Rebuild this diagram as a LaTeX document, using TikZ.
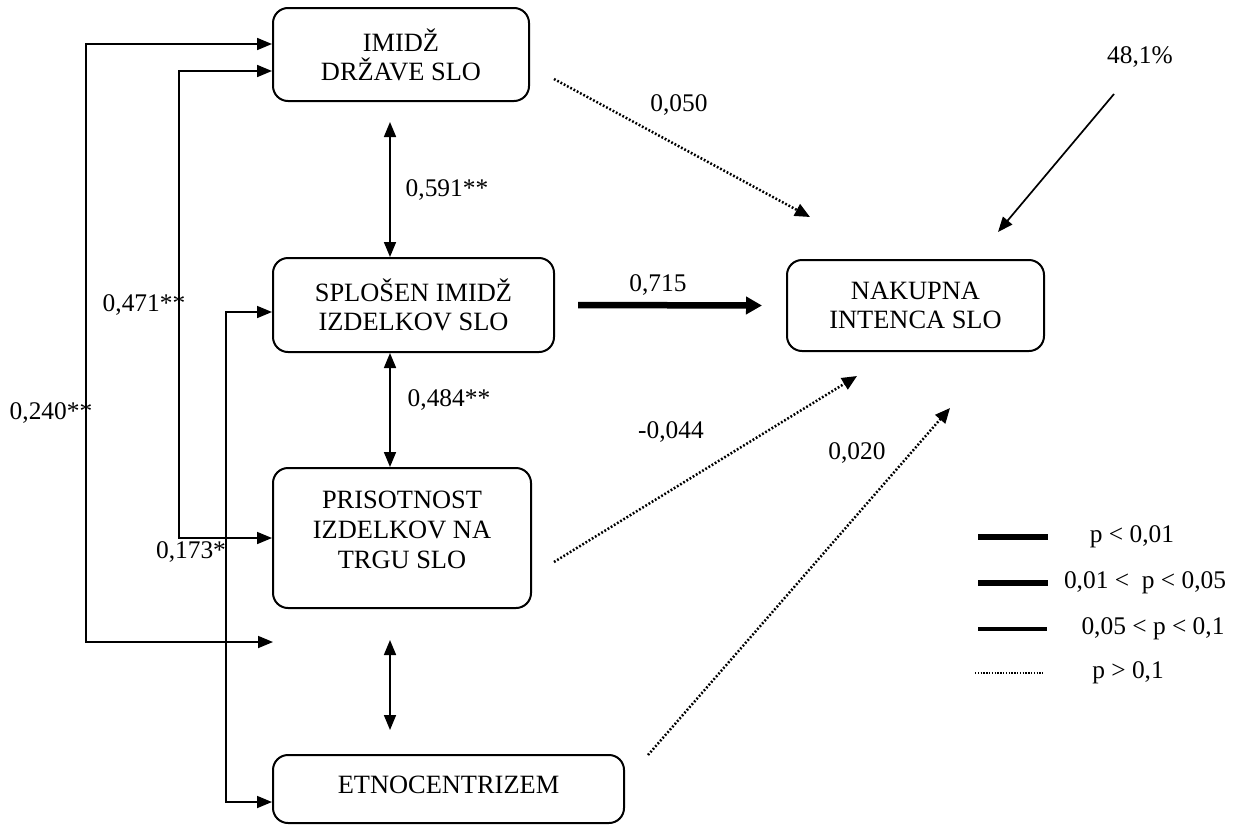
\documentclass[tikz,border=0pt]{standalone}
\usepackage{fontspec}
\setmainfont{Liberation Serif}
\usetikzlibrary{arrows.meta}
\begin{document}
\begin{tikzpicture}[x=0.5pt,y=-0.5pt,
  font=\fontsize{12.7}{14.5}\selectfont,
  box/.style={draw,line width=1pt,rounded corners=7.5pt,align=center,inner sep=0pt,
    font=\fontsize{13.2}{14.5}\selectfont},
  lbl/.style={inner sep=0pt,align=center},
  conn/.style={line width=0.85pt,-{Triangle[length=7.5pt,width=6pt]}},
  dbl/.style={line width=0.85pt,{Triangle[length=7.5pt,width=6pt]}-{Triangle[length=7.5pt,width=6pt]}},
  strong/.style={line width=3.25pt,-{Triangle[length=8pt,width=8.5pt]}},
  weak/.style={line width=1.25pt,dash pattern=on 0.9pt off 0.95pt,-{Triangle[length=7.5pt,width=6.5pt]}}]
\useasboundingbox (0,0) rectangle (1235,825);

% constructs
\node[box,minimum width=128pt,minimum height=46.5pt] (img) at (401,54.5) {IMIDŽ\\DRŽAVE SLO};
\node[box,minimum width=140.5pt,minimum height=47pt] (spl) at (413.5,305) {SPLOŠEN IMIDŽ\\IZDELKOV SLO};
\node[box,minimum width=129pt,minimum height=70pt] (pri) at (402,538) {};
\node[lbl,font=\fontsize{13.2}{15}\selectfont] (pritxt) at (402,530) {PRISOTNOST\\IZDELKOV NA\\TRGU SLO};
\node[box,minimum width=175.5pt,minimum height=34pt] (etn) at (448.5,789) {};
\node[lbl,font=\fontsize{13.2}{15}\selectfont] (etntxt) at (448.5,785) {ETNOCENTRIZEM};
\node[box,minimum width=128.5pt,minimum height=45.5pt] (nak) at (915.5,305.5) {NAKUPNA\\INTENCA SLO};

% helper coordinates
\coordinate (axis) at (390,0);
\coordinate (gapin) at (273,642);
\coordinate (err) at (1114,94);

% correlations on the left
\draw[dbl] ([yshift=5.25pt]img.west) -| ([xshift=-93.5pt]gapin) -- (gapin);
\draw[dbl] ([yshift=-8.25pt]img.west) -| ([xshift=-46.5pt]pri.west) -- (pri.west);
\draw[dbl] ([yshift=-3.5pt]spl.west) -| ([xshift=-23pt,yshift=-6.5pt]etn.west) -- ([yshift=-6.5pt]etn.west);

\node[lbl] (r240) at (51,413) {0,240**};
\node[lbl] (r471) at (144,305) {0,471**};
\node[lbl] (r173) at (191,552) {0,173*};

% correlations in the middle column
\draw[dbl] ([yshift=-10pt]img.south -| axis) -- (spl.north -| axis);
\draw[dbl] (spl.south -| axis) -- (pri.north -| axis);
\draw[dbl] ([yshift=-15.5pt]pri.south -| axis) -- ([yshift=12pt]etn.north -| axis);

\node[lbl] (r591) at (447,190) {0,591**};
\node[lbl] (r484) at (449,400) {0,484**};

% paths into purchase intention
\draw[strong] ([xshift=11.5pt]spl.east) -- ([xshift=-12pt]nak.west);
\node[lbl] (b715) at (658,285) {0,715};

\draw[weak] ([xshift=12pt,yshift=-12.25pt]img.east) -- ([xshift=-52.75pt,yshift=21pt]nak.north);
\node[lbl] (b050) at (679,105) {0,050};

\draw[weak] ([xshift=11pt,yshift=-12pt]pri.east) -- ([xshift=-29.25pt,yshift=-12pt]nak.south);
\node[lbl] (b044) at (671,432) {-0,044};

\draw[weak] ([xshift=11.5pt,yshift=17pt]etn.east) -- ([xshift=17.25pt,yshift=-28pt]nak.south);
\node[lbl] (b020) at (857,453) {0,020};

% explained variance
\node[lbl] (r2) at (1140,57) {48,1\%};
\draw[conn] (err) -- ([xshift=-23.5pt,yshift=13.5pt]nak.north east);

% legend
\coordinate (l1a) at (978,537); \coordinate (l1b) at (1048,537);
\coordinate (l2a) at (978,583); \coordinate (l2b) at (1048,583);
\coordinate (l3a) at (978,629); \coordinate (l3b) at (1047,629);
\coordinate (l4a) at (975,673); \coordinate (l4b) at (1043,673);
\draw[line width=3.3pt] (l1a) -- (l1b);
\draw[line width=2.6pt] (l2a) -- (l2b);
\draw[line width=2pt] (l3a) -- (l3b);
\draw[line width=0.7pt,dash pattern=on 0.7pt off 0.7pt] (l4a) -- (l4b);
\node[lbl] (k1) at (1132,537) {p < 0,01};
\node[lbl] (k2) at (1145,583) {0,01 <~ p < 0,05};
\node[lbl] (k3) at (1153,629) {0,05 < p < 0,1};
\node[lbl] (k4) at (1128,673) {p > 0,1};
\end{tikzpicture}
\end{document}
